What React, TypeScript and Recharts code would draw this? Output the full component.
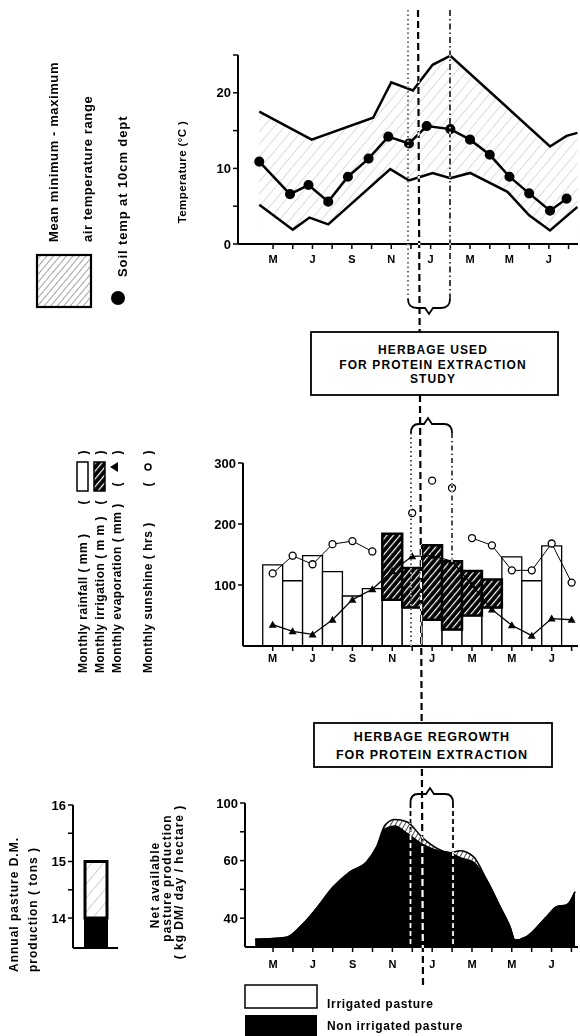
import React from "react";
import { Area, Bar, BarChart, ComposedChart, Line, XAxis, YAxis } from "recharts";

const FONT = "'Liberation Sans', Arial, sans-serif";

// month index: 0 = May of the first year ... 15 = August of the next
const monthTicks = [0, 1, 2, 3, 4, 5, 6, 7, 8, 9, 10, 11, 12, 13, 14, 15];
const monthLetters = ["M", "J", "J", "A", "S", "O", "N", "D", "J", "F", "M", "A", "M", "J", "J", "A"];

// ---- temperature panel: [month, °C]
const maxTemp = [
  [-0.7, 17.5], [1.96, 13.8], [5.08, 16.7], [6.0, 21.4], [7.1, 20.3], [8.1, 23.7],
  [9.0, 24.9], [14.06, 12.9], [14.9, 14.3], [15.45, 14.7],
];
const minTemp = [
  [-0.7, 5.2], [1.0, 1.9], [1.85, 3.5], [2.8, 2.6], [5.95, 9.9], [6.9, 8.4], [7.5, 8.9],
  [8.1, 9.4], [9.0, 8.7], [10.0, 9.4], [11.9, 6.9], [13.0, 3.8], [14.06, 1.8], [15.45, 4.9],
];
const soilTemp = [
  [-0.7, 10.9], [0.86, 6.6], [1.8, 7.8], [2.8, 5.6], [3.8, 8.9], [4.85, 11.3], [5.85, 14.2],
  [6.9, 13.3], [7.8, 15.6], [9.0, 15.2], [10.0, 13.8], [11.0, 11.8], [12.0, 8.9], [13.0, 6.7],
  [14.06, 4.4], [14.9, 6.0],
];

// ---- climate panel (mm / hrs), one value per month
const rainfall = [133, 107, 148, 122, 82, 94, 76, 63, 43, 27, 50, 63, 146, 107, 164, null];
const irrigation = [null, null, null, null, null, null, 108, 65, 122, 112, 73, 46, null, null, null, null];
const evaporation = [35, 24, 19, 43, 76, 93, 123, 147, 148, 139, 100, 60, 34, 17, 45, 43];
const sunshine = [119, 148, 134, 167, 172, 155, null, 218, 271, 259, 177, 165, 124, 124, 168, 104];
const sunshineLoose = [7, 8, 9]; // plotted without joining line

// ---- pasture panel: kg DM / day / ha
const pastureMonths = [
  -0.9, 0.69, 1.36, 2.11, 3.03, 3.87, 4.71, 5.21, 5.63, 6.13, 6.72, 7.55, 8.23, 8.89, 9.4,
  10.07, 10.74, 11.41, 11.91, 12.16, 12.75, 13.75, 14.26, 14.76, 15.18,
];
const irrigatedPasture = [
  32.7, 33.4, 37, 42.8, 50.9, 56.1, 59.6, 69.6, 84.8, 88.6, 87, 75.4, 68.6, 65.4, 66.8,
  62.8, 53.3, 44, 37, 32.4, 33.6, 40.5, 44, 44.6, 49.2,
];
const nonIrrigatedPasture = [
  32.7, 33.4, 37, 42.8, 50.9, 56.1, 59.6, 69.6, 82, 84, 79, 71, 67, 65.4, 62,
  59.5, 53.3, 44, 37, 32.4, 33.6, 40.5, 44, 44.6, 49.2,
];
// the printed axis is not linear: these values sit on evenly spaced ticks
const pastureBreaks = [30, 40, 50, 60, 80, 100];
const pastureTickLabels = ["", "40", "", "60", "", "100"];

// ---- annual production (tons)
const annualNonIrrigated = 14.0;
const annualIrrigated = 15.0;

const toPastureAxis = (v: number) => {
  for (let i = 0; i < pastureBreaks.length - 1; i++) {
    const a = pastureBreaks[i];
    const b = pastureBreaks[i + 1];
    if (v <= b || i === pastureBreaks.length - 2) return i + (v - a) / (b - a);
  }
  return 0;
};

const pick = (arr: number[][], m: number) => {
  const p = arr.find(([pm]) => pm === m);
  return p ? p[1] : null;
};
const tempTable = Array.from(new Set([...maxTemp, ...minTemp, ...soilTemp].map(([m]) => m)))
  .sort((a, b) => a - b)
  .map((m) => ({ m, max: pick(maxTemp, m), min: pick(minTemp, m), soil: pick(soilTemp, m) }));

const climateTable = monthTicks.map((m, i) => ({
  m,
  rain: rainfall[i],
  irr: irrigation[i],
  evap: evaporation[i],
  sun: sunshineLoose.includes(m) ? null : sunshine[i],
  sunLoose: sunshineLoose.includes(m) ? sunshine[i] : null,
}));

const pastureTable = pastureMonths.map((m, i) => ({
  m,
  irr: toPastureAxis(irrigatedPasture[i]),
  non: toPastureAxis(nonIrrigatedPasture[i]),
}));

const annualTable = [
  { name: "annual", non: annualNonIrrigated, irr: annualIrrigated - annualNonIrrigated },
];

const TICK = { fill: "#000", fontSize: 11, fontWeight: 700, fontFamily: FONT };
const NUM_TICK = { fill: "#000", fontSize: 13, fontWeight: 700, fontFamily: FONT };
const AXIS_LINE = { stroke: "#000", strokeWidth: 2 };
const TICK_LINE = { stroke: "#000", strokeWidth: 1.5 };
const monthLabel = (v: number) => (v % 2 === 0 ? monthLetters[v] ?? "" : "");

const TriangleDot = (props: any) => {
  const { cx, cy, index } = props;
  if (cx == null || cy == null) return <g key={`t${index}`} />;
  return <path key={`t${index}`} d={`M${cx},${cy - 4} L${cx + 4},${cy + 3} L${cx - 4},${cy + 3} Z`} fill="#000" />;
};

function VText({ x, y, children, anchor = "start", size = 12, spacing = 0.8 }: any) {
  return (
    <text
      x={x}
      y={y}
      transform={`rotate(-90 ${x} ${y})`}
      textAnchor={anchor}
      dominantBaseline="central"
      fontSize={size}
      fontWeight={700}
      letterSpacing={spacing}
      fontFamily={FONT}
      fill="#000"
    >
      {children}
    </text>
  );
}

function BoxText({ x, y, children, size = 12, spacing = 1.1 }: any) {
  return (
    <text x={x} y={y} textAnchor="middle" dominantBaseline="central" fontSize={size} fontWeight={700} letterSpacing={spacing} fontFamily={FONT} fill="#000">
      {children}
    </text>
  );
}

function Patterns() {
  return (
    <svg width={0} height={0} style={{ position: "absolute" }}>
      <defs>
        <pattern id="rangeHatch" width="8" height="8" patternUnits="userSpaceOnUse" patternTransform="rotate(40)">
          <rect width="8" height="8" fill="#fff" />
          <line x1="0" y1="0" x2="0" y2="8" stroke="#999" strokeWidth="0.7" />
        </pattern>
        <pattern id="legendHatch" width="5" height="5" patternUnits="userSpaceOnUse" patternTransform="rotate(40)">
          <rect width="5" height="5" fill="#fff" />
          <line x1="0" y1="0" x2="0" y2="5" stroke="#333" strokeWidth="0.9" />
        </pattern>
        <pattern id="irrHatch" width="5" height="5" patternUnits="userSpaceOnUse" patternTransform="rotate(40)">
          <rect width="5" height="5" fill="#000" />
          <line x1="0" y1="0" x2="0" y2="5" stroke="#fff" strokeWidth="2.4" />
        </pattern>
        <pattern id="pastureHatch" width="4" height="4" patternUnits="userSpaceOnUse" patternTransform="rotate(30)">
          <rect width="4" height="4" fill="#fff" />
          <line x1="0" y1="0" x2="0" y2="4" stroke="#000" strokeWidth="1.4" />
        </pattern>
        <pattern id="blotch" width="9" height="9" patternUnits="userSpaceOnUse" patternTransform="rotate(40)">
          <rect width="9" height="9" fill="#fff" />
          <line x1="0" y1="0" x2="0" y2="9" stroke="#777" strokeWidth="0.7" />
        </pattern>
      </defs>
    </svg>
  );
}

function TemperatureChart() {
  return (
    <div style={{ position: "absolute", left: 200, top: 40 }}>
      <ComposedChart width={380} height={234} data={tempTable} margin={{ top: 15, right: 2, bottom: 0, left: 0 }}>
        <XAxis
          dataKey="m"
          type="number"
          domain={[-1.78, 15.48]}
          ticks={monthTicks}
          interval={0}
          tickFormatter={monthLabel}
          tick={TICK}
          tickSize={5}
          tickMargin={6}
          axisLine={AXIS_LINE}
          tickLine={TICK_LINE}
          height={30}
          allowDataOverflow
        />
        <YAxis
          type="number"
          domain={[0, 25]}
          ticks={[0, 5, 10, 15, 20, 25]}
          interval={0}
          tickFormatter={(v: number) => (v % 10 === 0 && v < 25 ? String(v) : "")}
          tick={NUM_TICK}
          tickSize={5}
          axisLine={AXIS_LINE}
          tickLine={TICK_LINE}
          width={38}
          allowDataOverflow
        />
        <Area dataKey="max" type="linear" connectNulls stroke="#000" strokeWidth={2.5} fill="url(#rangeHatch)" fillOpacity={1} isAnimationActive={false} />
        <Area dataKey="min" type="linear" connectNulls stroke="#000" strokeWidth={2.5} fill="#fff" fillOpacity={1} isAnimationActive={false} />
        <Line dataKey="soil" type="linear" connectNulls stroke="#000" strokeWidth={2.5} dot={{ r: 3.8, fill: "#000", stroke: "#000" }} activeDot={false} isAnimationActive={false} />
      </ComposedChart>
    </div>
  );
}

function ClimateChart() {
  return (
    <div style={{ position: "absolute", left: 205, top: 440 }}>
      <ComposedChart width={375} height={236} data={climateTable} margin={{ top: 23, right: 2, bottom: 0, left: 0 }}>
        <XAxis
          dataKey="m"
          type="number"
          domain={[-1.49, 15.32]}
          ticks={monthTicks}
          interval={0}
          tickFormatter={monthLabel}
          tick={TICK}
          tickSize={5}
          tickMargin={3}
          axisLine={AXIS_LINE}
          tickLine={TICK_LINE}
          height={30}
          allowDataOverflow
        />
        <YAxis
          type="number"
          domain={[0, 300]}
          ticks={[100, 200, 300]}
          interval={0}
          tick={NUM_TICK}
          tickSize={5}
          axisLine={AXIS_LINE}
          tickLine={TICK_LINE}
          width={38}
        />
        <Bar dataKey="rain" stackId="w" barSize={19.9} fill="#fff" stroke="#000" strokeWidth={1.3} isAnimationActive={false} />
        <Bar dataKey="irr" stackId="w" barSize={19.9} fill="url(#irrHatch)" stroke="#000" strokeWidth={2.5} isAnimationActive={false} />
        <Line dataKey="evap" type="linear" stroke="#000" strokeWidth={1.3} dot={TriangleDot} activeDot={false} isAnimationActive={false} />
        <Line dataKey="sun" type="linear" stroke="#000" strokeWidth={1} dot={{ r: 3.5, fill: "#fff", stroke: "#000", strokeWidth: 1.3 }} activeDot={false} isAnimationActive={false} />
        <Line dataKey="sunLoose" type="linear" stroke="none" dot={{ r: 3.5, fill: "#fff", stroke: "#000", strokeWidth: 1.3 }} activeDot={false} isAnimationActive={false} />
      </ComposedChart>
    </div>
  );
}

function PastureChart() {
  return (
    <div style={{ position: "absolute", left: 207, top: 790 }}>
      <ComposedChart width={373} height={187} data={pastureTable} margin={{ top: 13, right: 2, bottom: 0, left: 0 }}>
        <XAxis
          dataKey="m"
          type="number"
          domain={[-1.41, 15.33]}
          ticks={monthTicks}
          interval={0}
          tickFormatter={monthLabel}
          tick={TICK}
          tickSize={5}
          tickMargin={8}
          axisLine={AXIS_LINE}
          tickLine={TICK_LINE}
          height={30}
          allowDataOverflow
        />
        <YAxis
          type="number"
          domain={[0, 5]}
          ticks={[1, 2, 3, 4, 5]}
          interval={0}
          tickFormatter={(v: number) => pastureTickLabels[v] ?? ""}
          tick={NUM_TICK}
          tickSize={5}
          axisLine={AXIS_LINE}
          tickLine={TICK_LINE}
          width={38}
        />
        <Area dataKey="irr" type="monotone" stroke="#000" strokeWidth={1.5} fill="url(#pastureHatch)" fillOpacity={1} isAnimationActive={false} />
        <Area dataKey="non" type="monotone" stroke="#000" strokeWidth={1.5} fill="#000" fillOpacity={1} isAnimationActive={false} />
      </ComposedChart>
    </div>
  );
}

function AnnualChart() {
  return (
    <div style={{ position: "absolute", left: 35, top: 790 }}>
      <BarChart width={85} height={160} data={annualTable} margin={{ top: 15, right: 2, bottom: 1, left: 0 }}>
        <XAxis dataKey="name" tick={false} tickLine={false} axisLine={AXIS_LINE} height={1} />
        <YAxis
          type="number"
          domain={[13.47, 16]}
          ticks={[14, 14.5, 15, 15.5, 16]}
          interval={0}
          tickFormatter={(v: number) => (Number.isInteger(v) ? String(v) : "")}
          tick={NUM_TICK}
          tickSize={5}
          axisLine={AXIS_LINE}
          tickLine={TICK_LINE}
          width={38}
          allowDataOverflow
        />
        <Bar dataKey="non" stackId="a" barSize={22} fill="#000" stroke="#000" strokeWidth={2} isAnimationActive={false} />
        <Bar dataKey="irr" stackId="a" barSize={22} fill="url(#blotch)" stroke="#000" strokeWidth={3} isAnimationActive={false} />
      </BarChart>
    </div>
  );
}

function Guides() {
  return (
    <svg width={580} height={1036} style={{ position: "absolute", left: 0, top: 0, mixBlendMode: "difference", pointerEvents: "none" }}>
      <g stroke="#fff" fill="none">
        <line x1={408} y1={10} x2={408} y2={300} strokeWidth={1.2} strokeDasharray="1.5 3" />
        <line x1={450} y1={10} x2={450} y2={300} strokeWidth={1.5} strokeDasharray="6 3 1.5 3" />
        <line x1={418} y1={10} x2={423} y2={985} strokeWidth={2.2} strokeDasharray="7 4" />
        <line x1={411} y1={433} x2={411} y2={646} strokeWidth={1.4} strokeDasharray="1.5 3" />
        <line x1={452} y1={433} x2={452} y2={562} strokeWidth={1.4} strokeDasharray="5 3 1.5 3" />
        <line x1={410.5} y1={803} x2={410.5} y2={947} strokeWidth={1.8} strokeDasharray="5 3" />
        <line x1={453} y1={803} x2={453} y2={947} strokeWidth={1.8} strokeDasharray="5 3" />
      </g>
    </svg>
  );
}

function Annotations() {
  return (
    <svg width={580} height={1036} style={{ position: "absolute", left: 0, top: 0, pointerEvents: "none" }}>
      {/* temperature legend */}
      <VText x={53} y={242} size={13} spacing={0.6}>Mean  minimum - maximum</VText>
      <VText x={87} y={242} size={13} spacing={0.6}>air  temperature  range</VText>
      <VText x={122} y={277} size={13} spacing={0.9}>Soil  temp  at  10cm  dept</VText>
      <rect x={37} y={255} width={54} height={52} fill="url(#legendHatch)" stroke="#000" strokeWidth={2.2} />
      <circle cx={118} cy={298} r={7} fill="#000" />
      <VText x={182} y={172} anchor="middle" size={11.5} spacing={0.4}>Temperature (°C )</VText>

      {/* braces and first box */}
      <g stroke="#000" strokeWidth={1.8} fill="none">
        <path d="M408,299 Q408,308 417,308 L425,308 L429,314 L433,308 L441,308 Q450,308 450,299" />
        <path d="M411,433 Q411,424 419,424 L424,424 L428,418 L432,424 L444,424 Q452,424 452,433" />
        <path d="M410.5,803 Q410.5,794 418,794 L426,794 L430,788 L434,794 L445,794 Q453,794 453,803" />
      </g>
      <rect x={311} y={332} width={247} height={63} fill="#fff" stroke="#000" strokeWidth={1.8} />
      <BoxText x={433} y={350}>HERBAGE USED</BoxText>
      <BoxText x={433} y={365}>FOR PROTEIN EXTRACTION</BoxText>
      <BoxText x={433} y={379}>STUDY</BoxText>

      {/* climate legend */}
      <VText x={83} y={673} spacing={0.5}>Monthly  rainfall  ( mm )</VText>
      <VText x={100} y={673} spacing={0.5}>Monthly  irrigation  ( m m )</VText>
      <VText x={117} y={673} spacing={0.5}>Monthly  evaporation  ( mm )</VText>
      <VText x={148} y={673} spacing={0.5}>Monthly  sunshine  ( hrs )</VText>
      <VText x={83} y={502} anchor="middle">(</VText>
      <rect x={77} y={462} width={11} height={29} fill="#fff" stroke="#000" strokeWidth={1.5} />
      <VText x={83} y={452} anchor="middle">)</VText>
      <VText x={100} y={502} anchor="middle">(</VText>
      <rect x={94} y={462} width={11} height={29} fill="url(#irrHatch)" stroke="#000" strokeWidth={1.5} />
      <VText x={100} y={452} anchor="middle">)</VText>
      <VText x={117} y={484} anchor="middle">(</VText>
      <path d="M110,467 L118,462 L118,472 Z" fill="#000" />
      <VText x={117} y={452} anchor="middle">)</VText>
      <VText x={148} y={484} anchor="middle">(</VText>
      <circle cx={148} cy={467} r={3} fill="none" stroke="#000" strokeWidth={1.5} />
      <VText x={148} y={452} anchor="middle">)</VText>

      {/* second box */}
      <rect x={314} y={723} width={238} height={44} fill="#fff" stroke="#000" strokeWidth={1.8} />
      <BoxText x={432} y={737} size={12.5} spacing={1}>HERBAGE REGROWTH</BoxText>
      <BoxText x={432} y={755} size={12.5} spacing={1}>FOR PROTEIN EXTRACTION</BoxText>

      {/* pasture axis titles */}
      <VText x={14} y={972} spacing={1}>Annual  pasture  D.M.</VText>
      <VText x={33} y={972} spacing={1}>production  (  tons  )</VText>
      <VText x={155} y={885} anchor="middle" spacing={1}>Net  available</VText>
      <VText x={167} y={878} anchor="middle" spacing={1}>pasture  production</VText>
      <VText x={179} y={882} anchor="middle" spacing={1}>( kg DM/ day / hectare )</VText>

      {/* pasture legend */}
      <rect x={245} y={985} width={72} height={23} fill="#fff" stroke="#000" strokeWidth={1.5} />
      <rect x={245} y={1015} width={72} height={22} fill="#000" />
      <text x={327} y={1004} dominantBaseline="central" fontSize={12} fontWeight={700} letterSpacing={0.7} fontFamily={FONT}>Irrigated pasture</text>
      <text x={327} y={1026} dominantBaseline="central" fontSize={12} fontWeight={700} letterSpacing={0.7} fontFamily={FONT}>Non irrigated pasture</text>
    </svg>
  );
}

export default function App() {
  return (
    <div style={{ position: "absolute", left: 0, top: 0, width: 580, height: 1036, background: "#fff", fontFamily: FONT, overflow: "hidden", isolation: "isolate" }}>
      <Patterns />
      <TemperatureChart />
      <ClimateChart />
      <PastureChart />
      <AnnualChart />
      <Guides />
      <Annotations />
    </div>
  );
}
